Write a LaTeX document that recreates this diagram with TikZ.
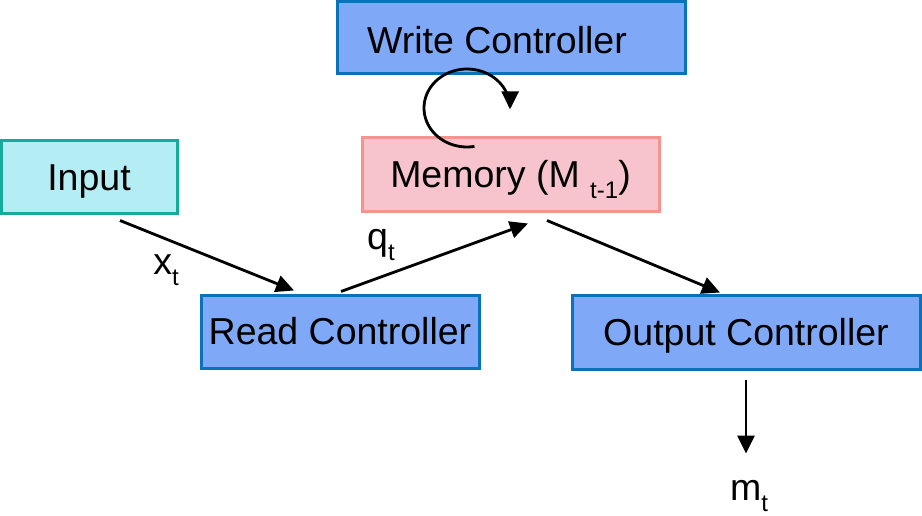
\documentclass[tikz,border=0pt]{standalone}
\usepackage{fontspec}
\setmainfont{Liberation Sans}
\usetikzlibrary{arrows.meta,calc}
\definecolor{bluefill}{HTML}{7FA8F6}
\definecolor{blueline}{HTML}{0A72BA}
\definecolor{cyanfill}{HTML}{B4EEF4}
\definecolor{cyanline}{HTML}{14AA9C}
\definecolor{pinkfill}{HTML}{F7C3CD}
\definecolor{pinkline}{HTML}{F4948E}
\newcommand{\mysub}[1]{\raisebox{-0.28em}{\fontsize{24}{24}\selectfont #1}}
\begin{document}
\begin{tikzpicture}[x=1pt,y=-1pt,
  boxstyle/.style={draw,line width=3pt,inner sep=0pt,text height=26pt,text depth=0pt,font=\fontsize{37.5}{40}\selectfont},
  bluebox/.style={boxstyle,fill=bluefill,draw=blueline},
  lbl/.style={inner sep=0pt,font=\fontsize{37.5}{40}\selectfont},
  conn/.style={line width=2.8pt,-{Triangle[length=18pt,width=17pt]}}]
\useasboundingbox (0,0) rectangle (922,516);
\node[bluebox,minimum width=348pt,minimum height=72pt,text height=32pt] (wc) at (511,38) {Write Controller\hspace*{28pt}};
\node[boxstyle,fill=cyanfill,draw=cyanline,minimum width=176pt,minimum height=73pt] (inp) at (89,177.5) {Input};
\node[boxstyle,fill=pinkfill,draw=pinkline,minimum width=297pt,minimum height=74pt] (mem) at (510.5,175) {Memory (M \mysub{t-1})};
\node[bluebox,minimum width=278pt,minimum height=73pt] (rc) at (340,331.5) {Read Controller};
\node[bluebox,minimum width=348pt,minimum height=74pt] (oc) at (746,332) {Output Controller};
\node[lbl] (xt) at (166,270) {x\mysub{t}};
\node[lbl] (qt) at (381,245) {q\mysub{t}};
\node[lbl] (mt) at (749,496) {m\mysub{t}};
\draw[conn] ($(inp.south)+(31,5)$) -- ($(rc.north)+(-46,-3)$);
\draw[conn] ($(rc.north)+(1,-2)$) -- ($(mem.south)+(17.5,10)$);
\draw[conn] ($(mem.south)+(36.5,7)$) -- ($(oc.north)+(-26,-1)$);
\draw[conn] ($(oc.south)+(0,9)$) -- ($(oc.south)+(0,83)$);
\draw[conn,smooth] plot[domain=80:362,samples=60] ({467+43*cos(\x)},{108+39*sin(\x)});
\end{tikzpicture}
\end{document}
